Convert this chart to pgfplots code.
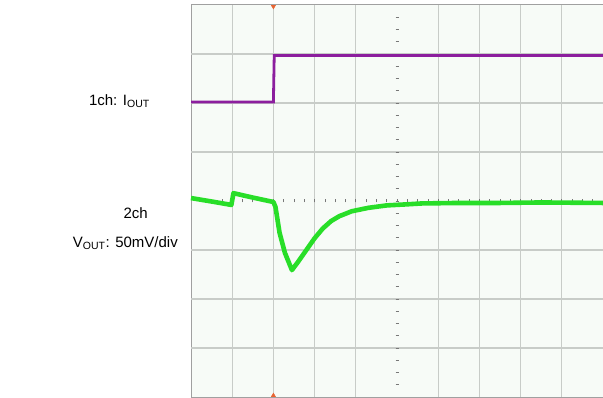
\documentclass[border=0pt]{standalone}
\usepackage{pgfplots}
\pgfplotsset{compat=1.18}
\usepackage{fontspec}
\setmainfont{Liberation Sans}
\definecolor{scrbg}{RGB}{247,251,247}
\definecolor{gridc}{RGB}{200,204,200}
\definecolor{borderc}{RGB}{160,160,160}
\definecolor{tickc}{RGB}{120,120,120}
\definecolor{ch1}{RGB}{140,30,158}
\definecolor{ch2}{RGB}{40,222,40}
\definecolor{trig}{RGB}{232,100,50}
\begin{document}
\begin{tikzpicture}[x=1bp,y=1bp]
\useasboundingbox (0bp,0bp) rectangle (603bp,398bp);
\begin{axis}[
  at={(191bp,1bp)}, anchor=south west,
  width=412bp, height=392bp, scale only axis,
  xmin=-5, xmax=5, ymin=-4, ymax=4,
  axis lines=middle,
  axis line style={draw=none},
  axis background/.style={fill=scrbg, draw=borderc, line width=1bp},
  xtick={-4,-3,-2,-1,1,2,3,4},
  ytick={-3,-2,-1,0,1,2,3},
  minor xtick={-4.75,-4.5,...,4.8},
  minor ytick={-3.75,-3.5,...,3.8},
  xticklabel=\empty, yticklabel=\empty,
  grid=major,
  major grid style={gridc, line width=1.2bp},
  minor grid style={draw=none},
  major tick length=3bp, minor tick length=3bp,
  tick align=center,
  tick style={tickc, line width=0.8bp},
  clip=false,
]
% 1ch: I_OUT
\addplot[ch1, line width=2.8bp, line join=miter] coordinates {
  (-5,2.02) (-3.0,2.02) (-2.98,2.97) (5,2.97)
};
% 2ch: V_OUT
\addplot[ch2, line width=4.6bp, line join=round] coordinates {
  (-5,0.06) (-4.5,-0.01) (-4.02,-0.08) (-3.97,0.16) (-3.5,0.07) (-3.0,-0.02)
  (-2.95,-0.12) (-2.85,-0.65) (-2.72,-1.06) (-2.55,-1.41)
  (-2.4,-1.24) (-2.2,-1.0) (-2.0,-0.76) (-1.8,-0.56) (-1.6,-0.41)
  (-1.4,-0.31) (-1.1,-0.21) (-0.7,-0.14) (-0.25,-0.09) (0.2,-0.07)
  (0.6,-0.05) (1.5,-0.04) (2.5,-0.04) (3.5,-0.03) (5,-0.04)
};
% trigger markers
\addplot[only marks, mark=triangle*, mark size=2.5bp, trig, mark options={rotate=180}] coordinates {(-3,3.97)};
\addplot[only marks, mark=triangle*, mark size=2.5bp, trig] coordinates {(-3,-3.97)};
\end{axis}
\node[anchor=east, font=\fontsize{15bp}{17bp}\selectfont, inner sep=0pt] at (150bp,297bp) {1ch: I\textsubscript{OUT}};
\node[anchor=east, font=\fontsize{15bp}{17bp}\selectfont, inner sep=0pt] at (148bp,185bp) {2ch};
\node[anchor=east, font=\fontsize{15bp}{17bp}\selectfont, inner sep=0pt] at (178bp,155bp) {V\textsubscript{OUT}: 50mV/div};
\end{tikzpicture}
\end{document}
